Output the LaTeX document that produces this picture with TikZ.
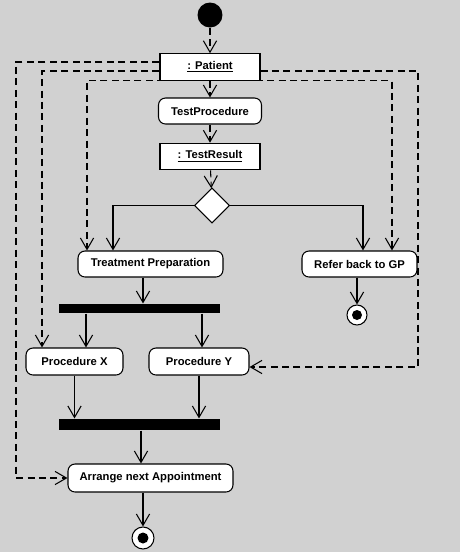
\documentclass[tikz,border=0pt]{standalone}
\usepackage{fontspec}
\setsansfont{Liberation Sans}
\usetikzlibrary{shapes.geometric,arrows.meta}

\begin{document}
\begin{tikzpicture}[x=0.02cm,y=-0.02cm,line width=0.6pt,
	lbl/.style={font=\sffamily\bfseries\fontsize{6.4}{7.5}\selectfont},
	act/.style={lbl,draw,fill=white,rounded corners=4pt,inner sep=0pt,minimum height=0.52cm},
	obj/.style={lbl,draw,fill=white,inner sep=0pt,minimum height=0.53cm},
	bar/.style={fill=black,inner sep=0pt,minimum width=3.22cm},
	ctrl/.style={-{Straight Barb[length=6.5pt,width=7.5pt]}},
	flow/.style={ctrl,dash pattern=on 4pt off 2.5pt},
	endstate/.style={circle,draw,fill=white,minimum size=0.4cm,inner sep=0pt}]
\fill[black!18](0,0)rectangle(460,552);

\node[circle,fill=black,minimum size=0.5cm,inner sep=0pt](start) at (210,15){};
\node[obj,minimum width=2cm](patient) at (210,67){\underline{: Patient}};
\node[act,minimum width=2.06cm](testproc) at (210,111){TestProcedure};
\node[obj,minimum width=2cm](testres) at (210,156.5){\underline{: TestResult}};
\node[diamond,draw,fill=white,minimum width=0.7cm,minimum height=0.7cm,inner sep=0pt](decide) at (212,205.5){};

\node[act,minimum width=2.9cm](treatprep) at (150.5,264){Treatment Preparation};
\node[act,minimum width=2.3cm](refergp) at (359.5,264){Refer back to GP};
\node[endstate](endgp) at (357,315){};
\fill(endgp.center)circle(0.1cm);

\node[bar,minimum height=0.18cm](fork) at (139.5,308.5){};
\node[act,minimum width=1.94cm,minimum height=0.54cm](procx) at (74.5,361.5){Procedure X};
\node[act,minimum width=2cm,minimum height=0.54cm](procy) at (199,361.5){Procedure Y};
\node[bar,minimum height=0.22cm](join) at (139.5,424.5){};
\node[act,minimum width=3.3cm,minimum height=0.56cm](arrange) at (150.5,478){Arrange next Appointment};
\node[endstate,minimum size=0.44cm](endnode) at (143,538){};
\fill(endnode.center)circle(0.11cm);

% object flow down the middle
\draw[flow](start)--(patient);
\draw[flow](patient)--(testproc);
\draw[flow](testproc)--(testres);
\draw[flow](testres)--(decide);

% decision
\coordinate(tpin) at ([xshift=-0.75cm]treatprep.north);
\coordinate(gpin) at ([xshift=0.07cm]refergp.north);
\draw[ctrl](decide.west)-|(tpin);
\draw[ctrl](decide.east)-|(gpin);
\coordinate(tpout) at ([xshift=-0.15cm]treatprep.south);
\draw[ctrl](tpout)--(tpout|-fork.north);
\draw[ctrl](refergp.south-|endgp.north)--(endgp.north);

% fork and join
\coordinate(xin) at ([xshift=0.23cm]procx.north);
\coordinate(yin) at ([xshift=0.06cm]procy.north);
\draw[ctrl](xin|-fork.south)--(xin);
\draw[ctrl](yin|-fork.south)--(yin);
\draw[ctrl](procx.south)--(procx.south|-join.north);
\draw[ctrl](procy.south)--(procy.south|-join.north);
\coordinate(ain) at ([xshift=-0.19cm]arrange.north);
\draw[ctrl](ain|-join.south)--(ain);
\draw[ctrl](arrange.south-|endnode.north)--(endnode.north);

% patient object to the actions
\coordinate(laneA) at (16,0);
\coordinate(laneB) at (418,0);
\coordinate(p1) at ([yshift=0.1cm]patient.west);
\coordinate(p2) at ([yshift=-0.08cm]patient.west);
\coordinate(p3) at ([yshift=-0.08cm]patient.east);
\coordinate(xobj) at ([xshift=-0.65cm]procx.north);
\coordinate(tpobj) at ([xshift=-1.27cm]treatprep.north);
\coordinate(gpobj) at ([xshift=0.65cm]refergp.north);
\coordinate(yobj) at ([yshift=-0.11cm]procy.east);
\draw[flow](p1)--(p1-|laneA)|-(arrange.west);
\draw[flow](p2)-|(xobj);
\draw[flow](patient.south)-|(tpobj);
\draw[flow](patient.south)-|(gpobj);
\draw[flow](p3)--(p3-|laneB)|-(yobj);
\end{tikzpicture}
\end{document}
